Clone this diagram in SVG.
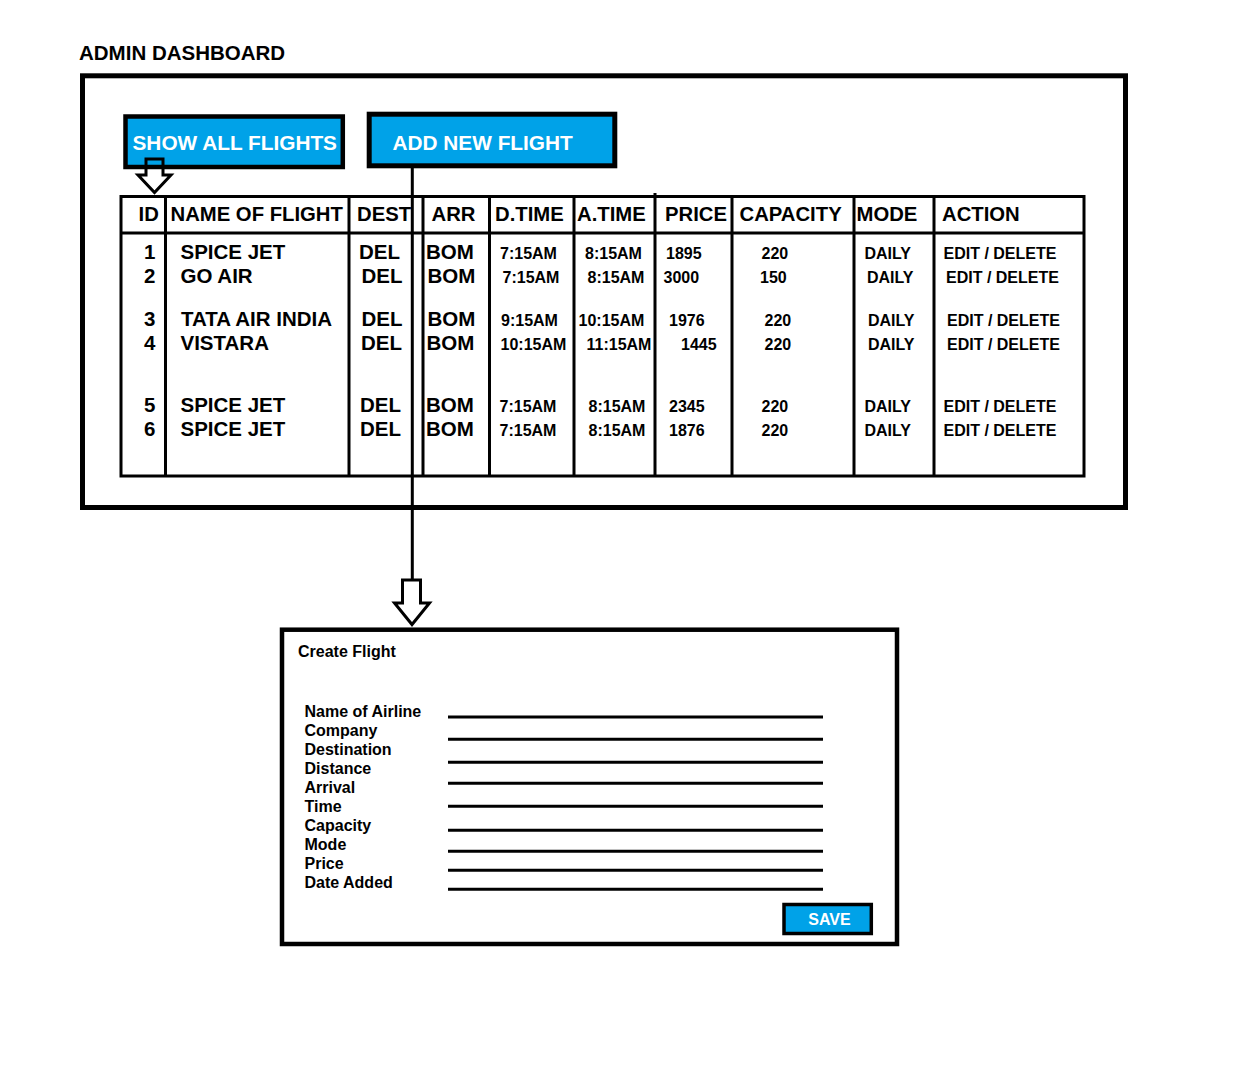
<svg xmlns="http://www.w3.org/2000/svg" width="1238" height="1086" viewBox="0 0 1238 1086">
<style>
text{font-family:"Liberation Sans",Arial,sans-serif;font-weight:bold;fill:#000}
.t20{font-size:20.5px}
.t16{font-size:16px}
.hd{font-size:20.3px}
.btn{font-size:20.8px;fill:#fff}
.ln{stroke:#000;stroke-width:3;fill:none}
.blue{fill:#00a2e8;stroke:#000}
.arrow{fill:#fff;stroke:#000;stroke-width:3;stroke-linejoin:miter}
.r{text-anchor:end}
</style>
<rect width="1238" height="1086" fill="#fff"/>
<text id="title" class="t20" x="79" y="60">ADMIN DASHBOARD</text>

<g id="dashboard">
<rect x="82.5" y="75.8" width="1043" height="431.7" fill="none" stroke="#000" stroke-width="5"/>
</g>

<g id="show-all-flights">
<rect class="blue" x="125.5" y="116.5" width="217.3" height="50.5" stroke-width="4.5"/>
<text class="btn" x="132.5" y="150">SHOW ALL FLIGHTS</text>
</g>

<g id="add-new-flight">
<rect class="blue" x="369.2" y="114.2" width="245.6" height="51.6" stroke-width="5"/>
<text class="btn" x="392.5" y="150">ADD NEW FLIGHT</text>
</g>

<g id="flights-table">
<rect class="ln" x="121" y="196.5" width="963" height="279.5"/>
<line class="ln" x1="121" y1="233" x2="1084" y2="233"/>
<line class="ln" x1="165.5" y1="196.5" x2="165.5" y2="476"/>
<line class="ln" x1="349" y1="196.5" x2="349" y2="476"/>
<line class="ln" x1="423" y1="196.5" x2="423" y2="476"/>
<line class="ln" x1="489.5" y1="196.5" x2="489.5" y2="476"/>
<line class="ln" x1="574" y1="196.5" x2="574" y2="476"/>
<line class="ln" x1="655" y1="193" x2="655" y2="476"/>
<line class="ln" x1="732" y1="196.5" x2="732" y2="476"/>
<line class="ln" x1="854" y1="196.5" x2="854" y2="476"/>
<line class="ln" x1="934" y1="196.5" x2="934" y2="476"/>
<g class="hd">
<text x="138.5" y="221">ID</text>
<text x="170.5" y="221">NAME OF FLIGHT</text>
<text x="357" y="221">DEST</text>
<text x="431.5" y="221">ARR</text>
<text x="495" y="221">D.TIME</text>
<text x="577" y="221">A.TIME</text>
<text x="665" y="221">PRICE</text>
<text x="739.5" y="221">CAPACITY</text>
<text x="856.5" y="221">MODE</text>
<text x="942" y="221">ACTION</text>
</g>
<g class="t20">
<text class="r" x="155.5" y="259">1</text>
<text class="r" x="155.5" y="283">2</text>
<text class="r" x="155.5" y="326">3</text>
<text class="r" x="155.5" y="350">4</text>
<text class="r" x="155.5" y="412">5</text>
<text class="r" x="155.5" y="436">6</text>
<text x="180.5" y="259">SPICE JET</text>
<text x="180.5" y="283">GO AIR</text>
<text x="181" y="326">TATA AIR INDIA</text>
<text x="180.5" y="350">VISTARA</text>
<text x="180.5" y="412">SPICE JET</text>
<text x="180.5" y="436">SPICE JET</text>
<text x="359" y="259">DEL</text>
<text x="361.5" y="283">DEL</text>
<text x="361.5" y="326">DEL</text>
<text x="361" y="350">DEL</text>
<text x="360" y="412">DEL</text>
<text x="360" y="436">DEL</text>
<text x="426" y="259">BOM</text>
<text x="427.5" y="283">BOM</text>
<text x="427.5" y="326">BOM</text>
<text x="426.5" y="350">BOM</text>
<text x="426" y="412">BOM</text>
<text x="426" y="436">BOM</text>
</g>
<g class="t16">
<text x="500" y="259">7:15AM</text>
<text x="502.5" y="283">7:15AM</text>
<text x="501" y="326">9:15AM</text>
<text x="500.5" y="350">10:15AM</text>
<text x="499.5" y="412">7:15AM</text>
<text x="499.5" y="436">7:15AM</text>
<text x="585" y="259">8:15AM</text>
<text x="587.5" y="283">8:15AM</text>
<text x="578.5" y="326">10:15AM</text>
<text x="586.5" y="350">11:15AM</text>
<text x="588.5" y="412">8:15AM</text>
<text x="588.5" y="436">8:15AM</text>
<text x="666" y="259">1895</text>
<text x="663.5" y="283">3000</text>
<text x="669" y="326">1976</text>
<text x="681" y="350">1445</text>
<text x="669" y="412">2345</text>
<text x="669" y="436">1876</text>
<text x="761.5" y="259">220</text>
<text x="760" y="283">150</text>
<text x="764.5" y="326">220</text>
<text x="764.5" y="350">220</text>
<text x="761.5" y="412">220</text>
<text x="761.5" y="436">220</text>
<text x="864.5" y="259">DAILY</text>
<text x="867" y="283">DAILY</text>
<text x="868" y="326">DAILY</text>
<text x="868" y="350">DAILY</text>
<text x="864.5" y="412">DAILY</text>
<text x="864.5" y="436">DAILY</text>
<text x="943.5" y="259">EDIT / DELETE</text>
<text x="946" y="283">EDIT / DELETE</text>
<text x="947" y="326">EDIT / DELETE</text>
<text x="947" y="350">EDIT / DELETE</text>
<text x="943.5" y="412">EDIT / DELETE</text>
<text x="943.5" y="436">EDIT / DELETE</text>
</g>
</g>

<g id="connectors">
<polygon points="146,159 163,159 163,175 171,175 154.5,192.5 138,175 146,175" fill="none" stroke="#000" stroke-width="3"/>
<line class="ln" x1="412.3" y1="168" x2="412.3" y2="580"/>
<polygon class="arrow" points="402.5,580 420.5,580 420.5,603 429.5,603 412,624.5 394.5,603 402.5,603"/>
</g>

<g id="create-flight-form">
<rect x="282" y="629.7" width="615" height="314.3" fill="#fff" stroke="#000" stroke-width="4.5"/>
<text class="t16" x="298" y="657">Create Flight</text>
<g class="t16">
<text x="304.5" y="717">Name of Airline</text>
<text x="304.5" y="736">Company</text>
<text x="304.5" y="754.5">Destination</text>
<text x="304.5" y="774">Distance</text>
<text x="304.5" y="793">Arrival</text>
<text x="304.5" y="812">Time</text>
<text x="304.5" y="831">Capacity</text>
<text x="304.5" y="849.5">Mode</text>
<text x="304.5" y="868.5">Price</text>
<text x="304.5" y="887.5">Date Added</text>
</g>
<g class="ln">
<line x1="448" y1="717" x2="823" y2="717"/>
<line x1="448" y1="739.3" x2="823" y2="739.3"/>
<line x1="448" y1="762.3" x2="823" y2="762.3"/>
<line x1="448" y1="783.3" x2="823" y2="783.3"/>
<line x1="448" y1="806.3" x2="823" y2="806.3"/>
<line x1="448" y1="830.3" x2="823" y2="830.3"/>
<line x1="448" y1="851.3" x2="823" y2="851.3"/>
<line x1="448" y1="870.3" x2="823" y2="870.3"/>
<line x1="448" y1="889.3" x2="823" y2="889.3"/>
</g>
</g>

<g id="save-button">
<rect class="blue" x="784" y="904.5" width="87.3" height="29" stroke-width="3.5"/>
<text class="t16" x="829.5" y="925" text-anchor="middle" fill="#fff" style="fill:#fff">SAVE</text>
</g>
</svg>
